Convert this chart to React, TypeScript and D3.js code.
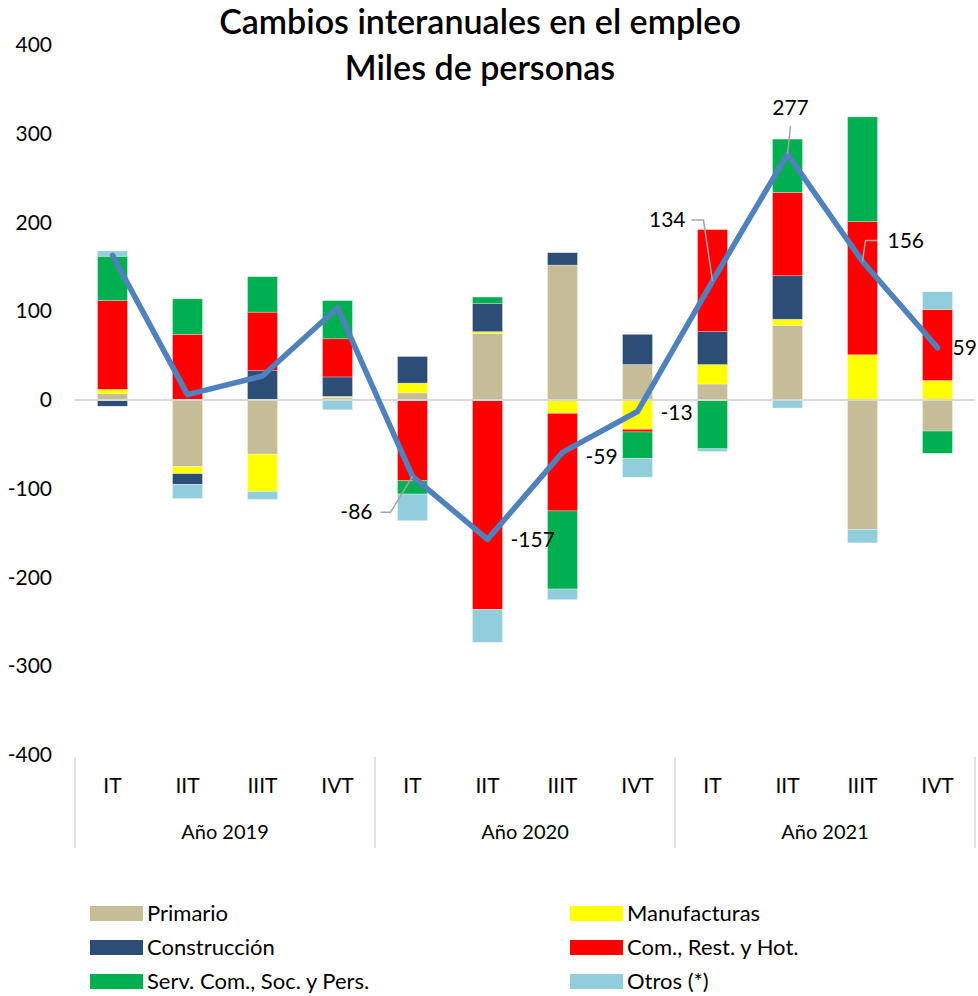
import * as d3 from "d3";

const W = 978, H = 996;
const M = { left: 75, right: 3, top: 45, bottom: 241 };

const quarters = ["IT", "IIT", "IIIT", "IVT", "IT", "IIT", "IIIT", "IVT", "IT", "IIT", "IIIT", "IVT"];
const years = ["Año 2019", "Año 2020", "Año 2021"];

const seriesNames = ["Primario", "Manufacturas", "Construcción", "Com., Rest. y Hot.", "Serv. Com., Soc. y Pers.", "Otros (*)"];
const seriesColors = ["#C4BD97", "#FFFF00", "#2C4D75", "#FF0000", "#00B050", "#92CDDC"];

const primario = [7, -75, -61, 3, 8, 75, 152, 40, 18, 84, -146, -35];
const manufacturas = [5, -8, -42, 1, 11, 2, -15, -33, 22, 7, 51, 22];
const construccion = [-7, -12, 33, 22, 30, 32, 14, 34, 37, 49, 0, 0];
const comercio = [100, 74, 66, 43, -91, -236, -110, -3, 115, 94, 150, 80];
const servicios = [50, 40, 40, 43, -15, 7, -88, -30, -55, 60, 118, -25];
const otros = [6, -16, -9, -11, -30, -37, -12, -21, -3, -9, -15, 20];
const total = [163, 6, 27, 104, -86, -157, -59, -13, 134, 277, 156, 59];

const yTicks = [400, 300, 200, 100, 0, -100, -200, -300, -400];

// which totals get a label, and how it sits relative to the point
const labelSpec: Record<number, { dx: number; dy: number; anchor: string; leader?: [number, number][] }> = {
  4: { dx: -40, dy: 36, anchor: "end", leader: [[0, 0], [-22, 36], [-32, 36]] },
  5: { dx: 23, dy: 1, anchor: "start" },
  6: { dx: 23, dy: 5, anchor: "start" },
  7: { dx: 23, dy: 1, anchor: "start" },
  8: { dx: -27, dy: -61, anchor: "end", leader: [[0, 0], [-9, -61], [-21, -61]] },
  9: { dx: 3, dy: -46, anchor: "middle", leader: [[0, 0], [3, -28]] },
  10: { dx: 25, dy: -21, anchor: "start", leader: [[0, 0], [3, -21], [15, -21]] },
  11: { dx: 15, dy: 0, anchor: "start" },
};

const FONT = "Lato, 'Open Sans', sans-serif";

export default function App() {
  const keys = quarters.map((_, i) => i);
  const rows = keys.map((i) => ({
    s0: primario[i], s1: manufacturas[i], s2: construccion[i],
    s3: comercio[i], s4: servicios[i], s5: otros[i],
  }));
  const stack = d3.stack<any>().keys(["s0", "s1", "s2", "s3", "s4", "s5"]).offset(d3.stackOffsetDiverging);
  const layers = stack(rows);

  const x = d3.scaleBand<number>().domain(keys).range([M.left, W - M.right]).paddingInner(0.6).paddingOuter(0.3);
  const y = d3.scaleLinear([-400, 400], [755, M.top]);
  const cx = (i: number) => x(i)! + x.bandwidth() / 2;

  const line = d3.line<number>().x((_, i) => cx(i)).y((d) => y(d));
  const step = x.step();
  const groupW = step * 4;

  return (
    <div>
      <style>{`body{margin:0}`}</style>
      <svg width={W} height={H} style={{ display: "block", background: "#fff" }} fontFamily={FONT}>
        {/* Title */}
        <text x={480} y={34} textAnchor="middle" fontSize={34} fontWeight={600} fill="#000">Cambios interanuales en el empleo</text>
        <text x={480} y={80} textAnchor="middle" fontSize={34} fontWeight={600} fill="#000">Miles de personas</text>

        {/* Y labels */}
        {yTicks.map((t) => (
          <text key={t} x={52} y={y(t) + 7} textAnchor="end" fontSize={21} fill="#000">{t}</text>
        ))}

        {/* Bars */}
        {layers.map((layer, si) =>
          layer.map((d, i) => {
            const h = Math.abs(y(d[0]) - y(d[1]));
            if (h < 0.01) return null;
            return (
              <rect key={`${si}-${i}`} x={x(i)} y={Math.min(y(d[0]), y(d[1]))} width={x.bandwidth()} height={h}
                fill={seriesColors[si]} stroke="#fff" strokeOpacity={0.5} strokeWidth={0.6} />
            );
          })
        )}

        {/* Zero line */}
        <line x1={M.left} x2={W - M.right} y1={y(0)} y2={y(0)} stroke="#D9D9D9" strokeWidth={2} />

        {/* Total line */}
        <path d={line(total)!} fill="none" stroke="#4F81BD" strokeWidth={5.5} strokeLinejoin="round" strokeLinecap="round" />

        {/* Data labels */}
        {total.map((v, i) => {
          const s = labelSpec[i];
          if (!s) return null;
          const px = cx(i), py = y(v);
          return (
            <g key={`lab-${i}`}>
              {s.leader && (
                <polyline points={s.leader.map(([a, b]) => `${px + a},${py + b}`).join(" ")} fill="none" stroke="#A6A6A6" strokeWidth={1.5} />
              )}
              <text x={px + s.dx} y={py + s.dy + 7} textAnchor={s.anchor as any} fontSize={21} fill="#000">{v}</text>
            </g>
          );
        })}

        {/* Category axis */}
        {[0, 1, 2, 3].map((g) => (
          <line key={`sep-${g}`} x1={M.left + g * groupW} x2={M.left + g * groupW} y1={757} y2={848} stroke="#D9D9D9" strokeWidth={1.5} />
        ))}
        {quarters.map((q, i) => (
          <text key={`q-${i}`} x={cx(i)} y={793} textAnchor="middle" fontSize={21} fill="#000">{q}</text>
        ))}
        {years.map((yr, g) => (
          <text key={yr} x={M.left + g * groupW + groupW / 2} y={839} textAnchor="middle" fontSize={20} fill="#000">{yr}</text>
        ))}

        {/* Legend */}
        {seriesNames.map((n, i) => {
          const col = i % 2, row = Math.floor(i / 2);
          const lx = col === 0 ? 90 : 570;
          const ly = 913 + row * 34;
          return (
            <g key={n}>
              <rect x={lx} y={ly - 7} width={53} height={15} fill={seriesColors[i]} />
              <text x={lx + 57} y={ly + 8} fontSize={22} fill="#000">{n}</text>
            </g>
          );
        })}
      </svg>
    </div>
  );
}
